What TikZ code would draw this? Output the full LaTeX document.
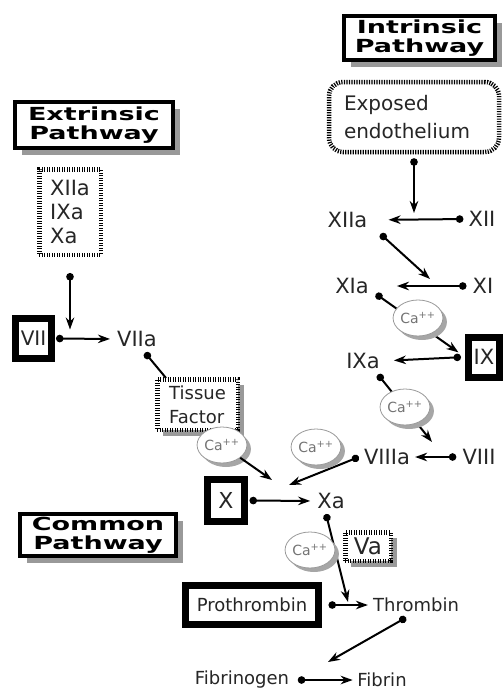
\documentclass[tikz,border=0pt]{standalone}
\usepackage{fontspec}
\setmainfont{DejaVu Sans}
\newfontfamily\titlefont{DejaVu Sans Bold}[FakeStretch=1.5]
\usetikzlibrary{arrows.meta,shapes.geometric,shadows}

\begin{document}
\begin{tikzpicture}[x=1pt, y=-1pt,
    lbl/.style={font=\fontsize{21}{24}\selectfont, text=black!85, inner sep=2pt},
    prodlbl/.style={font=\fontsize{18}{22}\selectfont, text=black!85, inner sep=2pt},
    titlebox/.style={draw, line width=4pt, fill=white, align=center, inner sep=0pt,
      font=\titlefont\fontsize{18}{19}\selectfont,
      drop shadow={shadow xshift=7pt, shadow yshift=-7pt, fill=black!40, opacity=1}},
    heavybox/.style={draw, line width=7pt, fill=white, inner sep=0pt, text=black!85},
    dotbox/.style={draw, line width=4.5pt, dash pattern=on 1.2pt off 1.3pt, fill=white,
      inner sep=0pt, text=black!85},
    shadowed/.style={drop shadow={shadow xshift=6pt, shadow yshift=-6pt, fill=black!40, opacity=1}},
    ca/.style={ellipse, draw=black!40, line width=0.8pt, fill=white, minimum width=41pt,
      minimum height=36pt, inner sep=0pt, text=black!55, font=\fontsize{14}{14}\selectfont,
      drop shadow={shadow xshift=4pt, shadow yshift=-4pt, fill=black!35, opacity=1}},
    conv/.style={line width=2pt, {Circle[length=7.5pt]}-{Stealth[length=12pt, width=8.5pt]}},
    link/.style={line width=2pt, {Circle[length=7.5pt]}-},
    push/.style={line width=2pt, -{Stealth[length=12pt, width=8.5pt]}},
  ]
  \useasboundingbox (0,0) rectangle (503,691);

  % pathway titles
  \node[titlebox, minimum width=151pt, minimum height=44pt] (intr) at (419.5,38) {Intrinsic\\Pathway};
  \node[titlebox, minimum width=158pt, minimum height=46pt] (extr) at (94,125) {Extrinsic\\Pathway};
  \node[titlebox, minimum width=156pt, minimum height=42pt] (comm) at (98,535) {Common\\Pathway};

  % intrinsic side
  \node[dotbox, rounded corners=14pt, minimum width=170pt, minimum height=70pt, align=left,
    text width=140pt, font=\fontsize{20}{28}\selectfont] (exposed) at (414,117) {Exposed\\endothelium};
  \node[lbl] (xiia) at (347.5,220) {XIIa};
  \node[lbl] (xii) at (482,219) {XII};
  \node[lbl] (xia) at (352,286) {XIa};
  \node[lbl] (xi) at (483,286) {XI};
  \node[heavybox, minimum width=31pt, minimum height=40pt, font=\fontsize{21}{24}\selectfont] (ix) at (484,357) {IX};
  \node[lbl] (ixa) at (363,361) {IXa};
  \node[lbl] (viiia) at (387,457) {VIIIa};
  \node[lbl] (viii) at (479,457) {VIII};

  % extrinsic side
  \node[dotbox, minimum width=61.5pt, minimum height=85.5pt, align=left,
    font=\fontsize{21}{24}\selectfont] (factors) at (70,212) {XIIa\\IXa\\Xa};
  \node[heavybox, minimum width=36pt, minimum height=40pt, font=\fontsize{20}{24}\selectfont] (vii) at (33.5,338.5) {VII};
  \node[lbl] (viia) at (137,339) {VIIa};
  \node[dotbox, shadowed, minimum width=80.5pt, minimum height=50.5pt, align=left,
    font=\fontsize{18}{24}\selectfont] (tissue) at (197.5,404.5) {Tissue\\Factor};

  % common pathway
  \node[heavybox, minimum width=37pt, minimum height=42pt, font=\fontsize{22}{24}\selectfont] (x) at (226,500.5) {X};
  \node[lbl] (xa) at (331,501) {Xa};
  \node[dotbox, shadowed, minimum width=45.5pt, minimum height=28.5pt,
    font=\fontsize{23}{24}\selectfont] (va) at (368,546.5) {Va};
  \node[heavybox, minimum width=133pt, minimum height=39pt, font=\fontsize{18}{22}\selectfont] (proth) at (252,605) {Prothrombin};
  \node[prodlbl] (thromb) at (416,605) {Thrombin};
  \node[prodlbl] (fibgen) at (242,680) {Fibrinogen};
  \node[prodlbl] (fibrin) at (382,680) {Fibrin};

  % free ends of the activating arrows
  \coordinate (xi-in) at (430,279);
  \coordinate (viii-in) at (432,442);
  \coordinate (x-in1) at (289,485);
  \coordinate (x-in2) at (272,480);
  \coordinate (thr-in) at (348,602);
  \coordinate (fib-in) at (328,662);

  % intrinsic cascade
  \draw[conv, shorten <=4pt, shorten >=6pt] (exposed.south) -- (exposed.south |- xii.west);
  \draw[conv, shorten <=3pt, shorten >=19pt] (xii.west) -- (xiia.east);
  \draw[conv] ([xshift=11pt, yshift=-4pt]xiia.south east) -- (xi-in);
  \draw[conv, shorten <=4pt, shorten >=26pt] (xi.west) -- (xia.east);
  \draw[conv, shorten >=8pt] ([xshift=5pt, yshift=2pt]xia.south east) -- (ix.west);
  \draw[conv, shorten <=4pt, shorten >=12pt] (ix.west) -- (ixa.east);
  \draw[conv] ([xshift=-4pt, yshift=-3.5pt]ixa.south east) -- (viii-in);
  \draw[conv, shorten <=4pt, shorten >=3pt] (viii.west) -- (viiia.east);
  \draw[conv] ([xshift=-3pt]viiia.west) -- (x-in1);

  % extrinsic cascade
  \draw[conv, shorten <=16pt, shorten >=9pt] (factors.south) -- (factors.south |- vii.east);
  \draw[conv, shorten <=1pt, shorten >=5pt] (vii.east) -- (viia.west);
  \draw[link] ([xshift=-14pt, yshift=-3.7pt]viia.south east) -- ([xshift=11pt, yshift=-1pt]tissue.north west);

  % common pathway
  \draw[conv, shorten <=1.5pt, shorten >=5pt] (x.east) -- (xa.west);
  \draw[conv] ([xshift=-5pt, yshift=-3pt]xa.south) -- (thr-in);
  \draw[conv, shorten <=6.5pt, shorten >=3pt] (proth.east) -- (thromb.west);
  \draw[conv] ([xshift=-10pt, yshift=-3.4pt]thromb.south) -- (fib-in);
  \draw[conv, shorten <=6.5pt, shorten >=2.5pt] (fibgen.east) -- (fibrin.west);

  % calcium cofactors
  \node[ca] (ca1) at (418,318) {Ca\textsuperscript{++}};
  \node[ca] (ca2) at (405,407) {Ca\textsuperscript{++}};
  \node[ca] (ca3) at (316,447) {Ca\textsuperscript{++}};
  \node[ca] (ca4) at (222,445) {Ca\textsuperscript{++}};
  \node[ca] (ca5) at (310,550) {Ca\textsuperscript{++}};
  \draw[push] (ca4) -- (x-in2);
\end{tikzpicture}
\end{document}
